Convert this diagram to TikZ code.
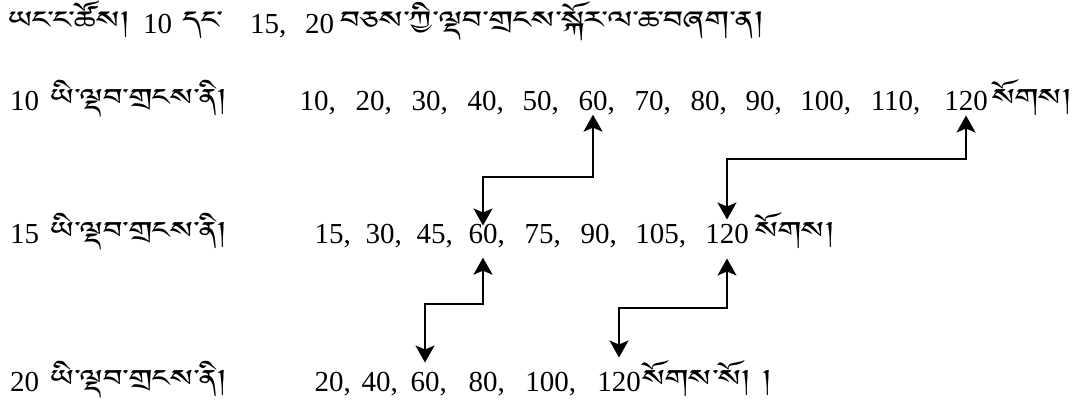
\documentclass[tikz,border=0pt]{standalone}
\usepackage{fontspec}
\usepackage{graphicx}
\setmainfont{Liberation Serif}
\IfFontExistsTF{Jomolhari}{%
  \newfontfamily\tib[Script=Tibetan]{Jomolhari}}{%
  \IfFontExistsTF{Tibetan Machine Uni}{%
    \newfontfamily\tib[Script=Tibetan]{Tibetan Machine Uni}}{%
    \newfontfamily\tib{Liberation Serif}}}
\newcommand\tbx[1]{\raisebox{-1pt}{\scalebox{1.1}[0.78]{#1}}}
\usetikzlibrary{arrows.meta,calc}
\tikzset{
  num/.style={anchor=base,inner sep=0pt,font=\fontsize{29}{32}\selectfont},
  lab/.style={anchor=base west,inner sep=0pt,font=\fontsize{29}{32}\selectfont},
  tlab/.style={anchor=base west,inner sep=0pt,font=\fontsize{38}{42}\tib},
  ttit/.style={anchor=base west,inner sep=0pt,font=\fontsize{39}{44}\tib},
  link/.style={line width=1.8pt,{Stealth[length=17pt,width=19pt,inset=4pt]}-{Stealth[length=17pt,width=19pt,inset=4pt]}}
}
\begin{document}
\begin{tikzpicture}[x=1pt,y=-1pt]
\useasboundingbox (0,0) rectangle (1083,402);
% title
\node[ttit] (t1) at (8,33) {\tbx{ཡང་ང་ཚོས།}};
\node[lab] (t2) at (143,33) {10};
\node[ttit] (t3) at (182,33) {\tbx{དང་}};
\node[lab] (t4) at (250,33) {15,};
\node[lab] (t5) at (305,33) {20};
\node[ttit] (t6) at (340,33) {\tbx{བཅས་ཀྱི་ལྡབ་གྲངས་སྐོར་ལ་ཆ་བཞག་ན།}};
% row 1
\node[lab] (l1) at (10,110) {10};
\node[tlab] (k1) at (50,110) {\tbx{ཡི་ལྡབ་གྲངས་ནི།}};
\node[num] (r1a) at (314,110) {10\rlap{,}};
\node[num] (r1b) at (370,110) {20\rlap{,}};
\node[num] (r1c) at (426,110) {30\rlap{,}};
\node[num] (r1d) at (482,110) {40\rlap{,}};
\node[num] (r1e) at (537,110) {50\rlap{,}};
\node[num] (r1f) at (593,110) {60\rlap{,}};
\node[num] (r1g) at (649,110) {70\rlap{,}};
\node[num] (r1h) at (705,110) {80\rlap{,}};
\node[num] (r1i) at (760,110) {90\rlap{,}};
\node[num] (r1j) at (822,110) {100\rlap{,}};
\node[num] (r1k) at (892,110) {110\rlap{,}};
\node[num] (r1l) at (966,110) {120};
\node[tlab] (e1) at (992,110) {\tbx{སོགས།}};
% row 2
\node[lab] (l2) at (10,243) {15};
\node[tlab] (k2) at (50,243) {\tbx{ཡི་ལྡབ་གྲངས་ནི།}};
\node[num] (r2a) at (329,243) {15\rlap{,}};
\node[num] (r2b) at (380,243) {30\rlap{,}};
\node[num] (r2c) at (431,243) {45\rlap{,}};
\node[num] (r2d) at (483,243) {60\rlap{,}};
\node[num] (r2e) at (539,243) {75\rlap{,}};
\node[num] (r2f) at (595,243) {90\rlap{,}};
\node[num] (r2g) at (657,243) {105\rlap{,}};
\node[num] (r2h) at (727,243) {120};
\node[tlab] (e2) at (755,243) {\tbx{སོགས།}};
% row 3
\node[lab] (l3) at (10,391) {20};
\node[tlab] (k3) at (50,391) {\tbx{ཡི་ལྡབ་གྲངས་ནི།}};
\node[num] (r3a) at (329,391) {20\rlap{,}};
\node[num] (r3b) at (376,391) {40\rlap{,}};
\node[num] (r3c) at (425,391) {60\rlap{,}};
\node[num] (r3d) at (483,391) {80\rlap{,}};
\node[num] (r3e) at (547,391) {100\rlap{,}};
\node[num] (r3f) at (619,391) {120};
\node[tlab] (e3) at (642,391) {\tbx{སོགས་སོ། །}};
% connectors
\coordinate (hA) at (0,177);
\coordinate (hB) at (0,159);
\coordinate (hC) at (0,304);
\coordinate (hD) at (0,308);
\draw[link] ([yshift=-2pt]r2d.north) |- (hA -| r1f.south) -- (r1f.south);
\draw[link] ([yshift=4pt]r2h.north) |- (hB -| r1l.south) -- ([yshift=-5pt]r1l.south);
\draw[link] ([yshift=9pt]r3c.north) |- (hC -| r2d.south) -- ([yshift=-10pt]r2d.south);
\draw[link] ([yshift=14pt]r3f.north) |- (hD -| r2h.south) -- ([yshift=-15pt]r2h.south);
\end{tikzpicture}
\end{document}
